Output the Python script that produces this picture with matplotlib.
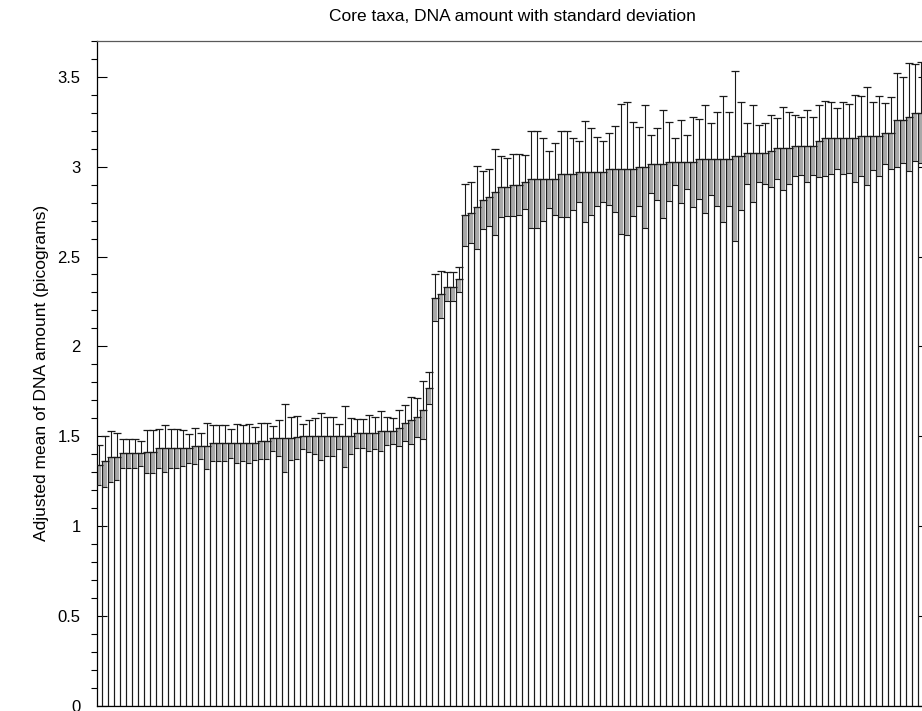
import matplotlib
matplotlib.use("Agg")
import matplotlib.pyplot as plt
import numpy as np
from matplotlib.ticker import MultipleLocator, FixedLocator

plt.rcParams['font.family'] = ['Liberation Sans', 'DejaVu Sans']

# adjusted mean DNA amount per taxon (picograms), sorted ascending
means = [
    1.34, 1.36, 1.387, 1.387, 1.405, 1.405, 1.405, 1.405, 1.414, 1.414,
    1.433, 1.433, 1.433, 1.433, 1.433, 1.433, 1.446, 1.446, 1.446, 1.461,
    1.461, 1.461, 1.461, 1.461, 1.461, 1.461, 1.461, 1.476, 1.476, 1.489,
    1.489, 1.489, 1.49, 1.495, 1.50, 1.50, 1.50, 1.50, 1.50, 1.50,
    1.50, 1.50, 1.50, 1.517, 1.517, 1.517, 1.517, 1.53, 1.53, 1.53,
    1.544, 1.576, 1.59, 1.605, 1.646, 1.77, 2.271, 2.29, 2.332, 2.332,
    2.373, 2.731, 2.744, 2.773, 2.814, 2.829, 2.86, 2.888, 2.888, 2.898,
    2.90, 2.916, 2.929, 2.929, 2.929, 2.929, 2.929, 2.959, 2.959, 2.959,
    2.972, 2.972, 2.972, 2.972, 2.972, 2.987, 2.987, 2.987, 2.987, 2.987,
    3.0, 3.0, 3.014, 3.014, 3.014, 3.027, 3.027, 3.027, 3.027, 3.027,
    3.042, 3.042, 3.042, 3.042, 3.042, 3.042, 3.059, 3.059, 3.074, 3.074,
    3.074, 3.074, 3.088, 3.101, 3.101, 3.101, 3.115, 3.115, 3.115, 3.115,
    3.144, 3.157, 3.157, 3.157, 3.157, 3.157, 3.157, 3.17, 3.17, 3.17,
    3.17, 3.185, 3.185, 3.259, 3.259, 3.274, 3.30, 3.30, 3.31,
]

# standard deviations
sds = [
    0.11, 0.14, 0.14, 0.13, 0.08, 0.08, 0.08, 0.07, 0.12, 0.12,
    0.11, 0.13, 0.11, 0.11, 0.10, 0.08, 0.10, 0.07, 0.13, 0.10,
    0.10, 0.10, 0.08, 0.11, 0.10, 0.11, 0.09, 0.10, 0.10, 0.07,
    0.10, 0.19, 0.12, 0.12, 0.07, 0.09, 0.10, 0.13, 0.11, 0.11,
    0.07, 0.17, 0.10, 0.08, 0.08, 0.10, 0.09, 0.11, 0.08, 0.07,
    0.10, 0.10, 0.13, 0.11, 0.16, 0.09, 0.13, 0.13, 0.08, 0.08,
    0.07, 0.17, 0.17, 0.23, 0.16, 0.16, 0.24, 0.17, 0.16, 0.17,
    0.17, 0.15, 0.27, 0.27, 0.23, 0.16, 0.20, 0.24, 0.24, 0.20,
    0.17, 0.28, 0.24, 0.19, 0.17, 0.20, 0.24, 0.36, 0.37, 0.26,
    0.22, 0.34, 0.16, 0.20, 0.30, 0.22, 0.13, 0.23, 0.15, 0.25,
    0.22, 0.30, 0.20, 0.26, 0.35, 0.26, 0.47, 0.30, 0.17, 0.27,
    0.16, 0.17, 0.20, 0.17, 0.23, 0.20, 0.17, 0.16, 0.20, 0.16,
    0.20, 0.21, 0.20, 0.17, 0.20, 0.19, 0.24, 0.22, 0.27, 0.19,
    0.22, 0.17, 0.20, 0.26, 0.24, 0.30, 0.27, 0.28, 0.27,
]

means = np.array(means)
sds = np.array(sds)
x = np.arange(1, len(means) + 1)

fig = plt.figure(figsize=(9.22, 7.11), dpi=100)
ax = fig.add_axes([0.1055, 0.007, 0.9015, 0.9357])

# white bars, light grey band for the lower half of the deviation, then outlines
ax.bar(x, means, width=1.0, color='white', edgecolor='none', zorder=1)
ax.bar(x, sds, bottom=means - sds, width=0.8, color='0.66', linewidth=0, zorder=2)
ax.bar(x, means, width=1.0, fill=False, edgecolor='0.1', linewidth=0.8, zorder=3)
ax.hlines(means - sds, x - 0.45, x + 0.45, color='0.1', linewidth=0.8, zorder=3)
ax.errorbar(x, means, yerr=[np.zeros_like(sds), sds], fmt='none', ecolor='0.1',
            elinewidth=0.8, capsize=2.8, capthick=0.9, zorder=4)

ax.set_xlim(0.77, 139.23)
ax.set_ylim(0, 3.7)

ax.set_xticks([])
ax.yaxis.set_major_locator(FixedLocator([0, 0.5, 1, 1.5, 2, 2.5, 3, 3.5]))
ax.set_yticklabels(['0', '0.5', '1', '1.5', '2', '2.5', '3', '3.5'])
ax.yaxis.set_minor_locator(MultipleLocator(0.1))
ax.tick_params(axis='y', which='major', direction='in', length=7.2, width=0.8,
               right=True, labelsize=12, pad=12)
ax.tick_params(axis='y', which='minor', direction='out', length=4.3, width=0.8,
               right=True)
for s in ax.spines.values():
    s.set_linewidth(0.9)
ax.spines['top'].set_color('0.35')

ax.set_ylabel('Adjusted mean of DNA amount (picograms)', fontsize=12.5, labelpad=6)
ax.set_title('Core taxa, DNA amount with standard deviation', fontsize=12.5, pad=14)

fig.savefig('out.png', dpi=100)
